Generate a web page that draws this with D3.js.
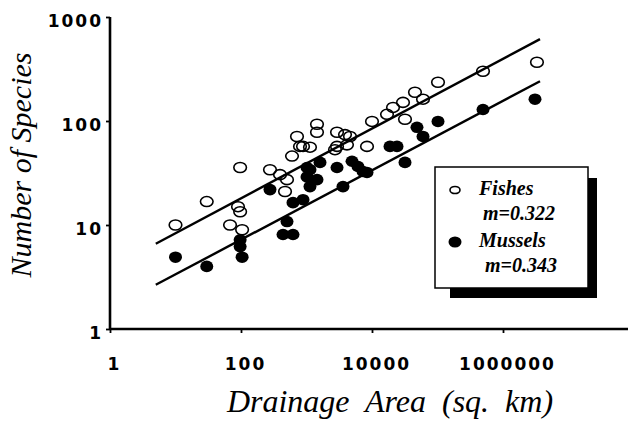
<!DOCTYPE html>
<html>
<head>
<meta charset="utf-8">
<script src="https://cdn.jsdelivr.net/npm/d3@7"></script>
<style>
  body { margin: 0; background: #fff; }
  svg { display: block; }
</style>
</head>
<body>
<script>
// values (drainage area in sq. km, species count)
const fishes = [
    [10, 10], [30, 16.8], [90, 15], [97, 13.4], [68, 10], [104, 9], [97, 35.7],
    [277, 34], [394, 30.5], [504, 27.3], [470, 21], [601, 46], [716, 71], [885, 57],
    [1130, 56], [1446, 93], [1446, 78], [796, 57], [2924, 78], [2924, 57], [3873, 74],
    [4613, 71], [2723, 53], [4150, 59], [8390, 57], [10000, 99], [16950, 116],
    [20930, 135], [29740, 151], [45300, 189], [60100, 162], [31900, 104],
    [101800, 236], [495000, 301], [3300000, 367]
]
const mussels = [
    [10, 4.9], [30, 4.0], [97, 7.2], [97, 6.2], [104, 4.9], [277, 21.9], [504, 10.8],
    [438, 8.1], [622, 8.1], [622, 16.4], [885, 17.5], [1018, 35.7], [1130, 34],
    [1018, 29], [1446, 27.3], [1130, 23.4], [2924, 35.7], [3607, 23.4], [4955, 41],
    [6113, 36.5], [7290, 32.7], [8390, 32], [18830, 57], [24090, 57], [48600, 87],
    [60100, 71], [101800, 99], [31900, 40], [495000, 129], [3080000, 162], [1607, 40]
]
// fitted lines, end points
const fishLine = [[5, 6.6], [3670000, 612]]
const musselLine = [[5, 2.66], [3670000, 241]]

const xTicks = [1, 100, 10000, 1000000]
const yTicks = [1, 10, 100, 1000]
const legendItems = [
    {name: "Fishes", slope: "m=0.322", open: true},
    {name: "Mussels", slope: "m=0.343", open: false}
]

const width = 628
const height = 422

const svg = d3.select("body").append("svg")
    .attr("width", width)
    .attr("height", height)

const x = d3.scaleLog().domain([1, 1e8]).range([110, 634])
const y = d3.scaleLog().domain([1, 1000]).range([329, 17])

// axes
const xAxis = svg.append("g")
    .attr("transform", "translate(0," + y(1) + ")")
    .call(d3.axisBottom(x).tickValues(xTicks).tickSize(4).tickFormat(d3.format("d")))
const yAxis = svg.append("g")
    .attr("transform", "translate(" + x(1) + ",0)")
    .call(d3.axisLeft(y).tickValues(yTicks).tickSize(4).tickFormat(d3.format("d")))

xAxis.select(".domain").attr("d", "M" + x(1) + ",0H628").attr("stroke-width", 2.6)
yAxis.select(".domain").attr("d", "M0," + y(1000) + "V" + (y(1) + 1)).attr("stroke-width", 2.6)
svg.selectAll(".tick line").attr("stroke-width", 1.8)

svg.selectAll(".tick text")
    .attr("font-family", "'DejaVu Sans'")
    .attr("font-weight", "bold")
    .attr("font-size", 17)
    .attr("letter-spacing", 2)
    .attr("fill", "#000")
xAxis.selectAll(".tick text").attr("dy", null).attr("y", 41).attr("dx", 4)
yAxis.selectAll(".tick text").attr("x", -7).attr("dy", "0.72em").attr("y", -3)

// regression lines
const line = d3.line().x(d => x(d[0])).y(d => y(d[1]))
svg.selectAll(".fit")
    .data([fishLine, musselLine]).enter()
    .append("path")
        .attr("class", "fit")
        .attr("d", line)
        .attr("fill", "none")
        .attr("stroke", "#000")
        .attr("stroke-width", 2.4)

// points
svg.append("g").selectAll("ellipse")
    .data(mussels).enter()
    .append("ellipse")
        .attr("cx", d => x(d[0]))
        .attr("cy", d => y(d[1]))
        .attr("rx", 6.5)
        .attr("ry", 5.8)
        .attr("fill", "#000")

svg.append("g").selectAll("ellipse")
    .data(fishes).enter()
    .append("ellipse")
        .attr("cx", d => x(d[0]))
        .attr("cy", d => y(d[1]))
        .attr("rx", 6.3)
        .attr("ry", 5)
        .attr("fill", "none")
        .attr("stroke", "#000")
        .attr("stroke-width", 1.6)

// axis titles
svg.append("text")
    .attr("x", 390)
    .attr("y", 412)
    .attr("text-anchor", "middle")
    .attr("font-family", "'Liberation Serif'")
    .attr("font-style", "italic")
    .attr("font-size", 32)
    .attr("word-spacing", 8)
    .text("Drainage Area (sq. km)")

svg.append("text")
    .attr("transform", "translate(31,165) rotate(-90)")
    .attr("text-anchor", "middle")
    .attr("font-family", "'Liberation Serif'")
    .attr("font-style", "italic")
    .attr("font-size", 30)
    .text("Number of Species")

// legend
const legend = svg.append("g")
legend.append("rect")
    .attr("x", 450).attr("y", 178)
    .attr("width", 147).attr("height", 120)
    .attr("fill", "#000")
legend.append("rect")
    .attr("x", 435).attr("y", 167)
    .attr("width", 153).attr("height", 121)
    .attr("fill", "#fff")
    .attr("stroke", "#000")
    .attr("stroke-width", 1.5)

const items = legend.selectAll(".item")
    .data(legendItems).enter()
    .append("g")
        .attr("class", "item")
        .attr("transform", (d, i) => "translate(0," + (i * 52) + ")")
items.append("ellipse")
    .attr("cx", 455).attr("cy", 190)
    .attr("rx", d => d.open ? 5 : 6.5)
    .attr("ry", d => d.open ? 3.5 : 5.5)
    .attr("fill", d => d.open ? "none" : "#000")
    .attr("stroke", "#000")
    .attr("stroke-width", d => d.open ? 1.6 : 0)
items.append("text")
    .attr("x", 479).attr("y", 195)
    .attr("font-family", "'Liberation Serif'")
    .attr("font-style", "italic")
    .attr("font-weight", "bold")
    .attr("font-size", 20)
    .text(d => d.name)
items.append("text")
    .attr("x", (d, i) => 483 + i * 2).attr("y", 220)
    .attr("font-family", "'Liberation Serif'")
    .attr("font-style", "italic")
    .attr("font-weight", "bold")
    .attr("font-size", 20)
    .text(d => d.slope)
</script>
</body>
</html>
